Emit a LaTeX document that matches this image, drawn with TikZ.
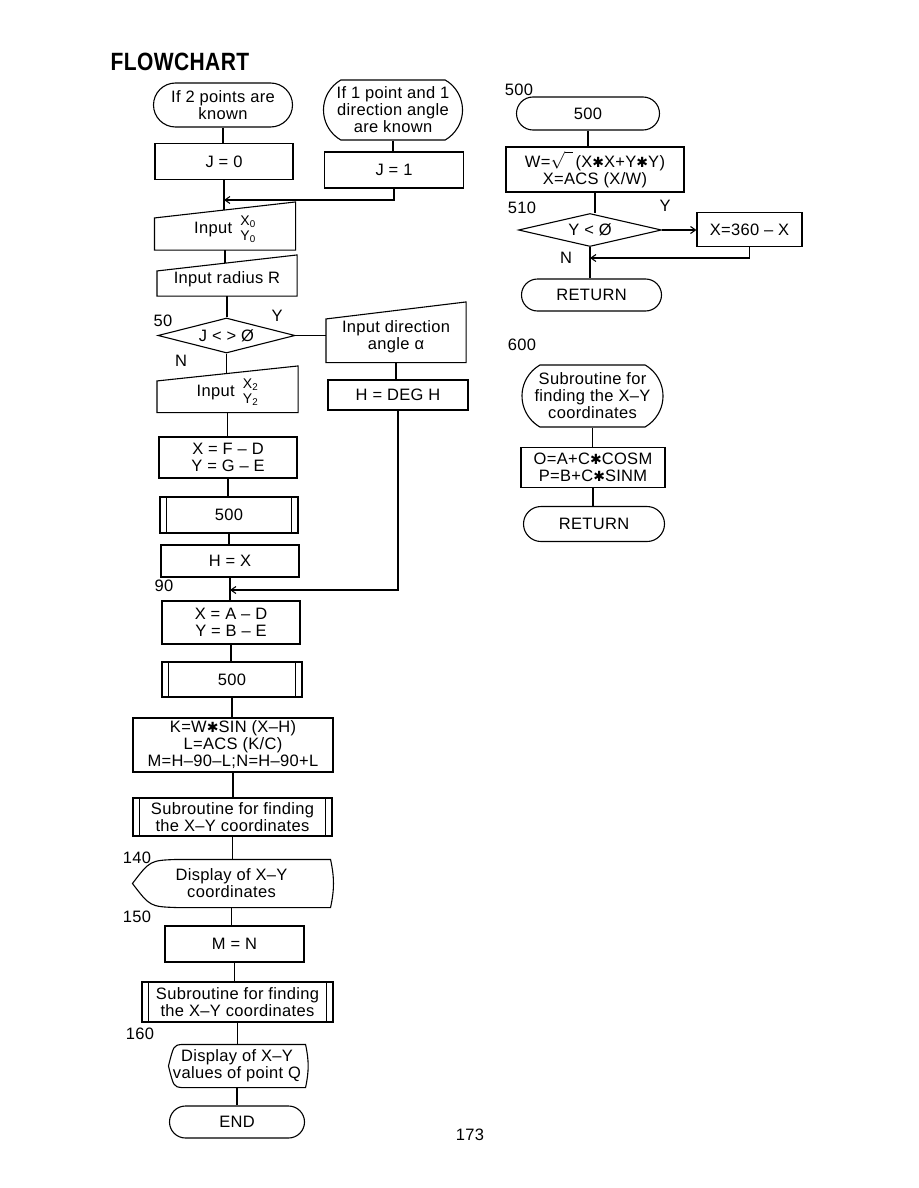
\documentclass[tikz,border=0pt]{standalone}
\usepackage{fontspec}
\setmainfont{Liberation Sans}[LetterSpace=2]
\newfontfamily\symfont{DejaVu Sans}
\usetikzlibrary{positioning,arrows.meta,shapes.geometric,shapes.misc}

\newcommand{\flstar}{{\symfont\fontsize{14}{14}\selectfont ✱}}
\newcommand{\flpair}[2]{{\fontsize{14}{14}\selectfont\begin{tabular}{@{}l@{}}#1\\[1pt]#2\end{tabular}}}

\begin{document}
\begin{tikzpicture}[
    x=1pt, y=-1pt,
    font=\fontsize{16.5}{17}\selectfont,
    line width=1.1pt,
    wh/.style 2 args={minimum width=#1, minimum height=#2},
    box/.style={draw, align=center, inner sep=0.5pt},
    term/.style={box, rounded rectangle},
    proc/.style={box, rectangle},
    dec/.style={box, diamond, aspect=4, inner sep=0pt},
    sub/.style={proc, append after command={\pgfextra{
        \draw ([xshift=7pt]\tikzlastnode.north west) -- ([xshift=7pt]\tikzlastnode.south west)
              ([xshift=-7pt]\tikzlastnode.north east) -- ([xshift=-7pt]\tikzlastnode.south east);}}},
    manin/.style={align=center, inner sep=1pt, append after command={\pgfextra{
        \draw (\tikzlastnode.south west) -- (\tikzlastnode.south east)
              -- ([yshift=#1*0.5pt]\tikzlastnode.north east)
              -- ([yshift=-#1*0.5pt]\tikzlastnode.north west) -- cycle;}}},
    disp/.style={align=center, inner sep=1pt, append after command={\pgfextra{
        \draw ([xshift=#1*1pt]\tikzlastnode.north west) -- (\tikzlastnode.north east)
              to[bend left=12] (\tikzlastnode.south east)
              -- ([xshift=#1*1pt]\tikzlastnode.south west)
              .. controls ([xshift=#1*0.4pt, yshift=1pt]\tikzlastnode.south west) .. (\tikzlastnode.west)
              .. controls ([xshift=#1*0.4pt, yshift=-1pt]\tikzlastnode.north west) .. ([xshift=#1*1pt]\tikzlastnode.north west);}}},
    lbl/.style={inner sep=0pt},
    arr/.style={-{Straight Barb[length=5pt, width=7pt]}},
  ]

  % page
  \fill[white] (0,0) rectangle (918,1188);
  \useasboundingbox (0,0) rectangle (918,1188);
  \node[anchor=west, inner sep=0pt] (title) at (110,62)
    {\scalebox{0.84}[1]{\fontsize{25}{25}\selectfont\bfseries FLOWCHART}};

  % Main program - two entry points
  \node[term, wh={140}{44}] (s1) at (223,105) {If 2 points are\\known};
  \node[term, wh={140}{60}, rounded rectangle arc length=120] (s2) at (393,110) {If 1 point and 1\\direction angle\\are known};
  \node[proc, wh={138}{36}] (j0) at (224,161.5) {J = 0};
  \node[proc, wh={139}{36}] (j1) at (394,170) {J = 1};
  \coordinate (m1) at (224,200);

  % Input of the known point and the radius
  \node[manin=16, wh={140}{39}] (inx0) at (225,230) {Input\enspace\flpair{X\textsubscript{0}}{Y\textsubscript{0}}};
  \node[manin=16, wh={139}{32}] (inr) at (227,279.5) {Input radius R};
  \node[dec, wh={137}{35}] (d50) at (226.5,335.5) {J < > Ø};
  \node[lbl] (l50) at (163,321) {50};
  \node[lbl] (ly50) at (277,316) {Y};
  \node[lbl] (ln50) at (181,361) {N};

  % Y branch - direction angle given
  \node[manin=17, wh={139}{51}] (inang) at (396,336.5) {Input direction\\angle α};
  \node[proc, wh={140}{30}] (hdeg) at (398,395) {H = DEG H};

  % N branch - second point given
  \node[manin=15, wh={140}{38}] (inx2) at (227.5,393) {Input\enspace\flpair{X\textsubscript{2}}{Y\textsubscript{2}}};
  \node[proc, wh={138}{41}] (xfd) at (228,457.5) {X = F – D\\Y = G – E};
  \node[sub, wh={138}{36}] (sa) at (229,515) {500};
  \node[proc, wh={138}{32}] (hx) at (230,561) {H = X};
  \coordinate (m90) at (230,590);
  \node[lbl] (l90) at (164,586) {90};

  % Common part
  \node[proc, wh={138}{43}] (xad) at (231,622.5) {X = A – D\\Y = B – E};
  \node[sub, wh={140}{35}] (sb) at (232,679.5) {500};
  \node[proc, wh={200}{54}, inner sep=1.5pt] (kw) at (233,745) {K=W\flstar SIN (X–H)\\L=ACS (K/C)\\M=H–90–L;N=H–90+L};
  \node[sub, wh={199}{38}] (suba) at (232.5,817) {Subroutine for finding\\the X–Y coordinates};
  \node[disp=44, wh={197}{47}] (dispa) at (231.5,883.5) {Display of X–Y\\coordinates};
  \node[lbl] (l140) at (137,858) {140};
  \node[lbl] (l150) at (137,917) {150};
  \node[proc, wh={139}{36}] (mn) at (234.5,944) {M = N};
  \node[sub, wh={191}{40}] (subb) at (237.5,1002) {Subroutine for finding\\the X–Y coordinates};
  \node[lbl] (l160) at (140,1034) {160};
  \node[disp=13, wh={136}{42}] (dispb) at (237,1066) {Display of X–Y\\values of point Q};
  \node[term, wh={136}{32}] (endn) at (237,1122) {END};

  % Subroutine 500
  \node[lbl] (l500) at (519,90) {500};
  \node[term, wh={144}{33}] (r500) at (588,113.5) {500};
  \node[proc, wh={178}{45}] (wbox) at (595,169.5) {W=$\sqrt{\phantom{0}}$\,(X\flstar X+Y\flstar Y)\\X=ACS (X/W)};
  \node[dec, wh={143}{33}] (d510) at (590,230) {Y < Ø};
  \node[lbl] (l510) at (522,208) {510};
  \node[lbl] (ly510) at (665,206) {Y};
  \node[lbl] (ln510) at (566,258) {N};
  \node[proc, wh={105}{34}] (x360) at (749.5,229.5) {X=360 – X};
  \coordinate (m510) at (590,258);
  \node[term, wh={141}{32}] (ret1) at (591.5,295) {RETURN};

  % Subroutine 600
  \node[lbl] (l600) at (522,345) {600};
  \node[term, wh={142}{62}, rounded rectangle arc length=120] (sub600) at (592.5,396) {Subroutine for\\finding the X–Y\\coordinates};
  \node[proc, wh={144}{40}] (ob) at (593,467.5) {O=A+C\flstar COSM\\P=B+C\flstar SINM};
  \node[term, wh={142}{35}] (ret2) at (594,524) {RETURN};

  \node[lbl] (pg) at (470,1135) {173};

  % Straight-down flows
  \foreach \a/\b in {s1/j0, s2/j1, j0/inx0, inx0/inr, inr/d50, d50/inx2, inx2/xfd,
                     xfd/sa, sa/hx, hx/xad, xad/sb, sb/kw, kw/suba, suba/dispa,
                     dispa/mn, mn/subb, subb/dispb, dispb/endn, inang/hdeg,
                     r500/wbox, wbox/d510, d510/ret1, sub600/ob, ob/ret2}
    \draw (\a.south) -- (\a.south |- \b.north);

  % Branches and merges
  \draw (d50.east) -- (d50.east -| inang.west);
  \draw[arr] (d510.east) -- (d510.east -| x360.west);
  \draw[arr] (j1.south) |- (m1);
  \draw[arr] (hdeg.south) |- (m90);
  \draw[arr] (x360.south) |- (m510);

\end{tikzpicture}
\end{document}
